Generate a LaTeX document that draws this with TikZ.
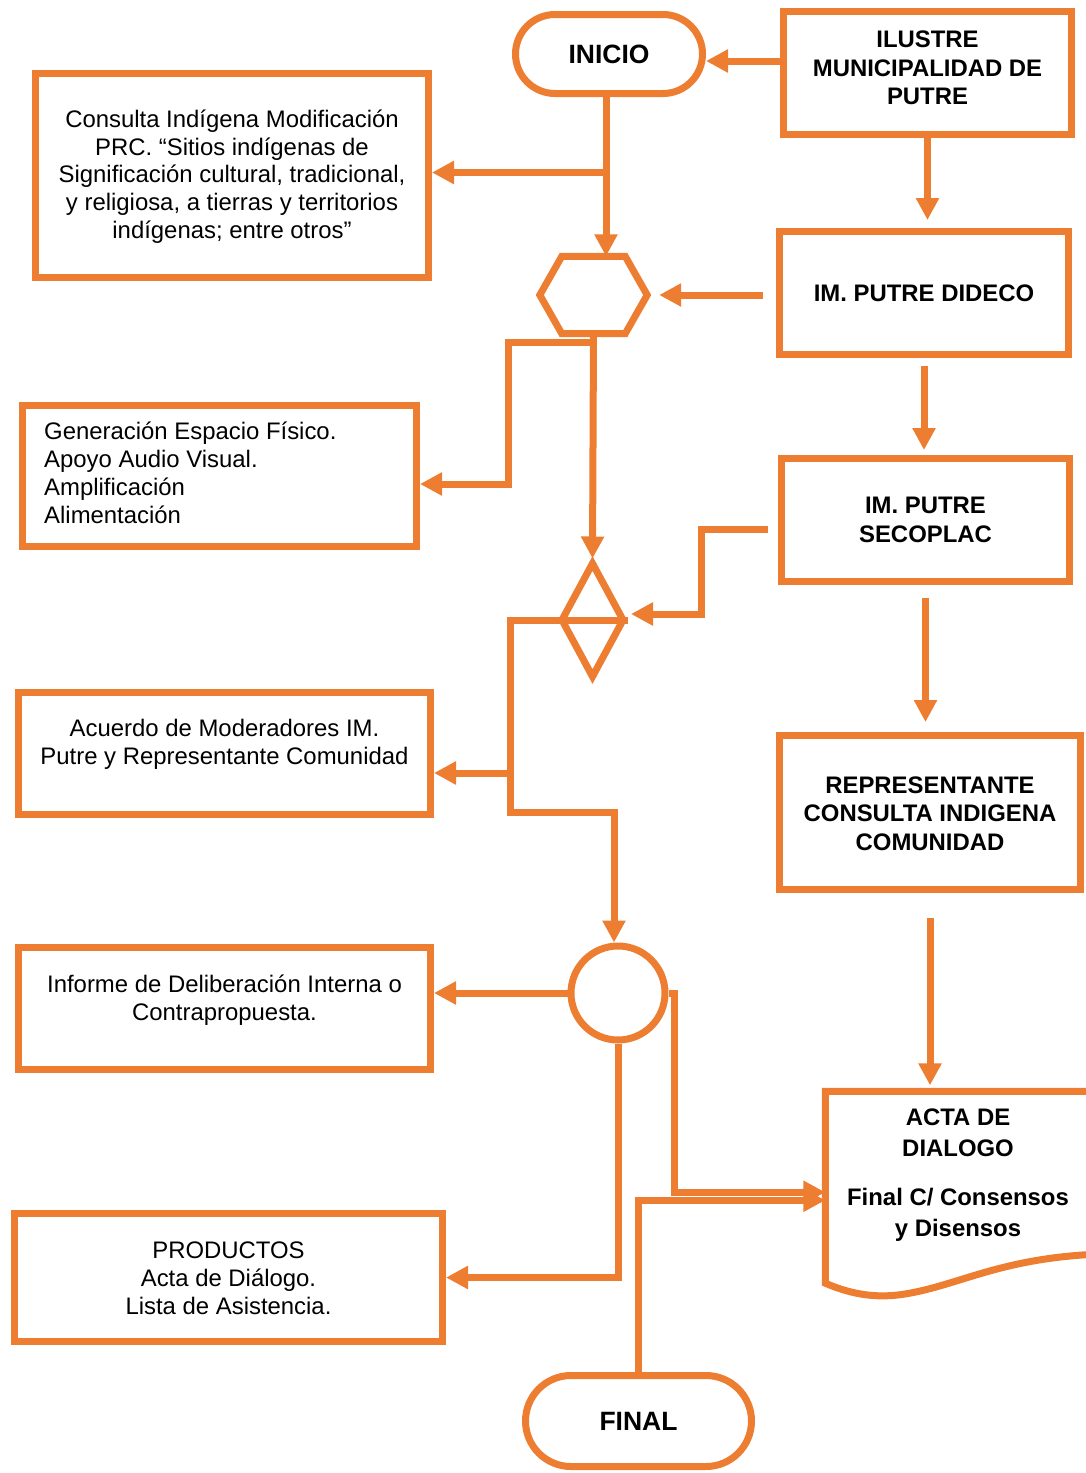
\documentclass[tikz,border=0pt]{standalone}
\usepackage{fontspec}
\setmainfont{Liberation Sans}
\usetikzlibrary{arrows.meta,shapes,shapes.geometric}
\definecolor{accent}{RGB}{237,125,49}
\tikzstyle{process}=[draw=accent,line width=7pt,rectangle,inner sep=0pt]
\tikzstyle{plaintext}=[align=center,inner sep=0pt,font=\fontsize{23.9}{27.8}\selectfont]
\tikzstyle{boldtext}=[plaintext,font=\fontsize{23.9}{28.6}\selectfont\bfseries]
\tikzstyle{terminal}=[process,font=\fontsize{26.5}{30}\selectfont\bfseries]
\tikzstyle{link}=[draw=accent,line width=7pt]
\tikzstyle{flow}=[link,-{Triangle[length=22pt,width=22pt]}]

\begin{document}
\begin{tikzpicture}[x=1pt,y=-1pt]
    \useasboundingbox (0,0) rectangle (1086,1473);
    % Start and end
    \node[terminal,minimum width=187,minimum height=79,rounded corners=39.5pt] (inicio) at (609,54) {INICIO};
    \node[terminal,minimum width=226,minimum height=91,rounded corners=45.5pt] (final) at (638.5,1421) {FINAL};
    % Right column of the municipality
    \foreach \name/\pos/\w/\h/\dy/\txt in {ilustre/{(927.5,73)}/288/123/5/{ILUSTRE\\MUNICIPALIDAD DE\\PUTRE},
        dideco/{(924,293)}/289/123/0/{IM. PUTRE DIDECO}, secoplac/{(925.5,520)}/288/123/0/{IM. PUTRE\\SECOPLAC},
        representante/{(930,812.5)}/301/154/-1/{REPRESENTANTE\\CONSULTA INDIGENA\\COMUNIDAD}}
    {
        \node[process,minimum width=\w,minimum height=\h] (\name) at \pos {};
        \node[boldtext] at ([yshift=\dy pt]\name.center) {\txt};
    }
    % Left column of tasks
    \node[process,minimum width=393,minimum height=204] (consulta) at (232,175.5) {};
    \node[plaintext] at ([yshift=-1pt]consulta.center)
        {Consulta Indígena Modificación\\PRC. “Sitios indígenas de\\Significación cultural, tradicional,\\y religiosa, a tierras y territorios\\indígenas; entre otros”};
    \node[process,minimum width=394,minimum height=141] (generacion) at (219.5,476) {};
    \node[plaintext,align=left,anchor=west] at ([xshift=25pt,yshift=3pt]generacion.west)
        {Generación Espacio Físico.\\Apoyo Audio Visual.\\Amplificación\\Alimentación};
    \node[process,minimum width=412,minimum height=122] (acuerdo) at (224.5,753.5) {};
    \node[plaintext] at ([yshift=9pt]acuerdo.center) {Acuerdo de Moderadores IM.\\Putre y Representante Comunidad};
    \node[process,minimum width=412,minimum height=122] (informe) at (224.5,1008.5) {};
    \node[plaintext] at ([yshift=8pt]informe.center) {Informe de Deliberación Interna o\\Contrapropuesta.};
    \node[process,minimum width=428,minimum height=128] (productos) at (228.5,1277.5) {};
    \node[plaintext] at ([yshift=-1pt]productos.center) {PRODUCTOS\\Acta de Diálogo.\\Lista de Asistencia.};
    % Symbols in the middle
    \node[minimum width=107,minimum height=77,inner sep=0pt] (hex) at (593.5,295) {};
    \path[link] (hex.west) -- ([xshift=22pt]hex.north west) -- ([xshift=-22pt]hex.north east) -- (hex.east)
        -- ([xshift=-22pt]hex.south east) -- ([xshift=22pt]hex.south west) -- cycle;
    \node[diamond,draw=accent,line width=7pt,minimum width=64,minimum height=116,inner sep=0pt] (dia) at (592.5,620) {};
    \path[link] (dia.west) -- (dia.east);
    \node[circle,draw=accent,line width=7pt,minimum size=94,inner sep=0pt] (circ) at (618,993) {};
    % Document of the dialogue
    \node[minimum width=274.5,minimum height=191.5,inner sep=0pt] (acta) at (962.75,1187.25) {};
    \path[link] (acta.north east) -- (acta.north west) -- (acta.south west)
        .. controls (855,1296) and (880,1298) .. (905,1294) .. controls (960,1285) and (1000,1258) .. (1100,1254);
    \node[boldtext,font=\fontsize{23.9}{30.5}\selectfont\bfseries] at (958,1175)
        {ACTA DE\\DIALOGO\\[19pt]Final C/ Consensos\\y Disensos};
    % Connect the right column
    \path[flow] ([yshift=-7pt]ilustre.west |- inicio.east) -- ([yshift=-7pt]inicio.east);
    \foreach \source/\dest/\ga/\gb in {ilustre/dideco/0/8, dideco/secoplac/8/5, secoplac/representante/13/10, representante/acta/25/6}
        \path[flow,shorten <=\ga pt,shorten >=\gb pt] (\source.south) -- (\source.south |- \dest.north);
    \path[flow,shorten <=13pt,shorten >=12pt] (dideco.west |- hex.east) -- (hex.east);
    \path[flow,shorten >=3pt] ([xshift=-10pt,yshift=-9pt]secoplac.west) -| ([xshift=73pt,yshift=6pt]dia.east) -- ([yshift=6pt]dia.east);
    % Connect the middle line
    \coordinate (split1) at (508,342);
    \coordinate (split2) at (510,773);
    \path[flow] ([xshift=-3pt]inicio.south) -- ([xshift=-3pt]inicio.south |- hex.north);
    \path[flow] ([xshift=-3pt,yshift=3pt]inicio.south |- consulta.east) -- ([yshift=3pt]consulta.east);
    \path[flow] (hex.south) |- (split1) |- ([yshift=-8pt]generacion.east);
    \path[flow] (hex.south) -- (dia.north);
    \path[link] (dia.west) -| (split2);
    \path[flow] (split2) -- (split2 -| acuerdo.east);
    \path[flow] (split2) -- ++(0,39) -| ([xshift=-4pt]circ.north);
    \path[flow] (circ.west) -- (circ.west -| informe.east);
    \path[flow] (circ.south) |- (productos.east);
    \path[flow] (circ.east) -- ++(6,0) |- ([yshift=-5pt]acta.west);
    \path[flow] (final.north) |- ([yshift=-13pt]acta.west);
\end{tikzpicture}
\end{document}
